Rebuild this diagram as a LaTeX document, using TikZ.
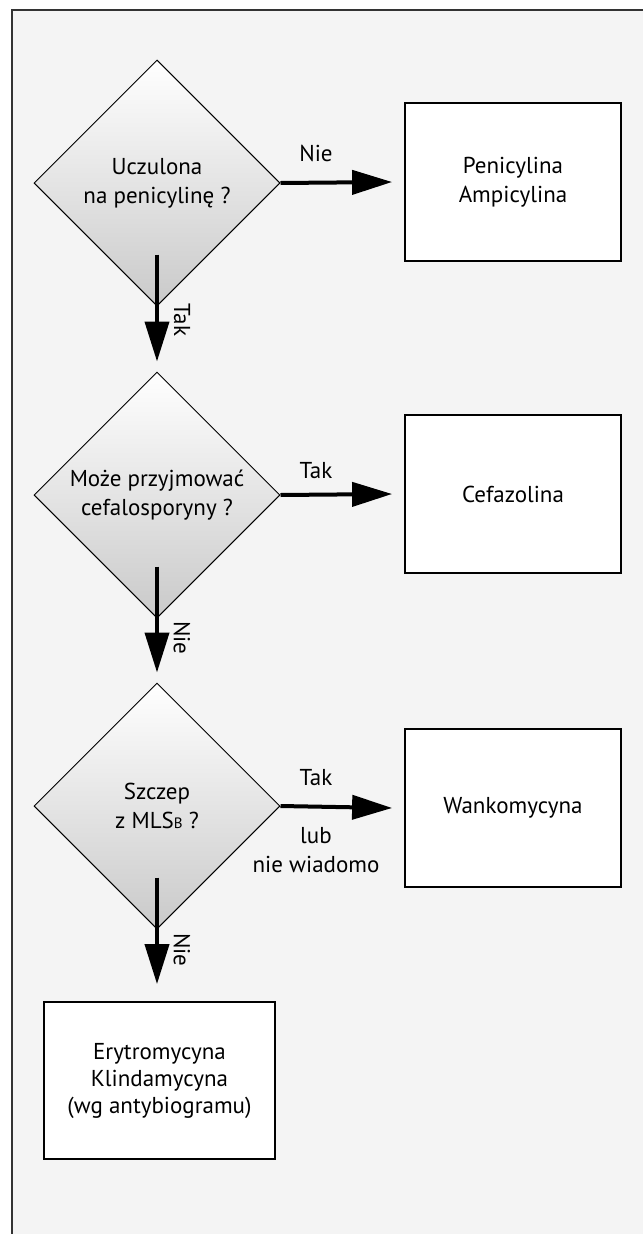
\documentclass[tikz,border=0pt]{standalone}
\usepackage{fontspec}
\setmainfont{PT Sans}
\usetikzlibrary{shapes.geometric,arrows.meta,positioning,calc}

\definecolor{tlo}{HTML}{F4F4F4}
\definecolor{ramka}{HTML}{333333}

\tikzset{
  pytanie/.style={diamond, aspect=1, draw=black, line width=1pt,
    top color=white, middle color=black!6, bottom color=black!21,
    minimum width=246pt, minimum height=246pt, inner sep=0pt,
    align=center, font=\fontsize{23}{29}\selectfont},
  lek/.style={rectangle, draw=black, line width=1.8pt, fill=white,
    minimum width=216pt, minimum height=158pt, align=center,
    font=\fontsize{23}{29}\selectfont},
  strzalka/.style={line width=4pt, -{Triangle[length=40pt,width=24pt]}},
  etykieta/.style={font=\fontsize{23}{29}\selectfont, inner sep=0pt, align=center},
}

\begin{document}
\begin{tikzpicture}[x=1pt,y=-1pt]

        % Tlo i ramka
        \useasboundingbox (0,0) rectangle (643,1234);
        \fill[tlo] (12,10) rectangle (643,1234);
        \draw[ramka,line width=1.2pt] (12,1234) -- (12,10) -- (643,10);

        % Pytania
        \node[pytanie] (pyt1) at (157,183) {Uczulona\\na penicylinę ?};
        \node[pytanie] (pyt2) at (157,495) {Może przyjmować\\cefalosporyny ?};
        \node[pytanie] (pyt3) at (157,806) {Szczep\\z MLS{\fontsize{15}{15}\selectfont B} ?};

        % Leki
        \node[lek] (lek1) at (513,182) {Penicylina\\Ampicylina};
        \node[lek] (lek2) at (513,494) {Cefazolina};
        \node[lek] (lek3) at (513,808) {Wankomycyna};
        \node[lek,minimum width=231pt,minimum height=157pt,font=\fontsize{23}{27}\selectfont]
            (lek4) at (159.5,1080.5) {Erytromycyna\\Klindamycyna\\(wg antybiogramu)};

        % Strzalki w prawo
        \draw[strzalka] (pyt1.east) -- ([xshift=-12pt]lek1.west);
        \draw[strzalka] (pyt2.east) -- ([xshift=-12pt]lek2.west);
        \draw[strzalka] (pyt3.east) -- ([xshift=-12pt]lek3.west);

        % Strzalki w dol
        \draw[strzalka] ([yshift=52pt]pyt1.south) -- ([yshift=10pt]pyt2.north);
        \draw[strzalka] ([yshift=52pt]pyt2.south) -- ([yshift=10pt]pyt3.north);
        \draw[strzalka] ([yshift=52pt]pyt3.south) -- ($(pyt3.south |- lek4.north)+(0,17pt)$);

        % Etykiety
        \node[etykieta] (nie1) at (316,153) {Nie};
        \node[etykieta] (tak2) at (316,471) {Tak};
        \node[etykieta] (tak3) at (316,778) {Tak};
        \node[etykieta] (lub3) at (316,850) {lub\\nie wiadomo};
        \node[etykieta,rotate=-90] (tak1) at (182,320) {Tak};
        \node[etykieta,rotate=-90] (nie2) at (182,638) {Nie};
        \node[etykieta,rotate=-90] (nie3) at (182,950) {Nie};

\end{tikzpicture}
\end{document}
